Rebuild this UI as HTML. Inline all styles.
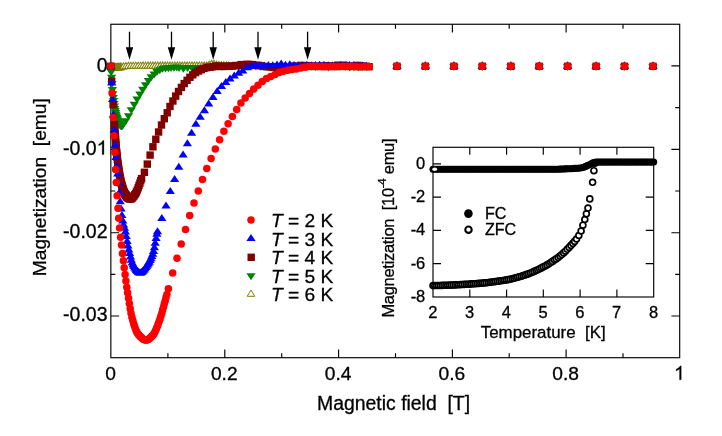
<!DOCTYPE html>
<html><head><meta charset="utf-8"><title>Magnetization</title>
<style>html,body{margin:0;padding:0;background:#fff}body{width:722px;height:436px;overflow:hidden;font-family:"Liberation Sans",sans-serif}</style></head>
<body>
<svg width="722" height="436" viewBox="0 0 722 436" style="display:block;will-change:transform;font-family:'Liberation Sans',sans-serif">
<rect width="722" height="436" fill="#fff"/>
<g stroke="#000" stroke-width="1.15" fill="none">
<rect x="110.85" y="24.25" width="568.85" height="333.45"/>
<path d="M167.9 24.25 v4.5 M167.9 357.7 v-4.5"/>
<path d="M224.8 24.25 v8.3 M224.8 357.7 v-8.3"/>
<path d="M281.7 24.25 v4.5 M281.7 357.7 v-4.5"/>
<path d="M338.6 24.25 v8.3 M338.6 357.7 v-8.3"/>
<path d="M395.5 24.25 v4.5 M395.5 357.7 v-4.5"/>
<path d="M452.4 24.25 v8.3 M452.4 357.7 v-8.3"/>
<path d="M509.2 24.25 v4.5 M509.2 357.7 v-4.5"/>
<path d="M566.1 24.25 v8.3 M566.1 357.7 v-8.3"/>
<path d="M623.0 24.25 v4.5 M623.0 357.7 v-4.5"/>
<path d="M110.85 65.9 h8.3 M679.7 65.9 h-8.3"/>
<path d="M110.85 107.6 h4.5 M679.7 107.6 h-4.5"/>
<path d="M110.85 149.3 h8.3 M679.7 149.3 h-8.3"/>
<path d="M110.85 191.0 h4.5 M679.7 191.0 h-4.5"/>
<path d="M110.85 232.7 h8.3 M679.7 232.7 h-8.3"/>
<path d="M110.85 274.3 h4.5 M679.7 274.3 h-4.5"/>
<path d="M110.85 316.0 h8.3 M679.7 316.0 h-8.3"/>
</g>
<g fill="#fff" stroke="#808000" stroke-width="1.05" stroke-linejoin="miter"><polygon points="107.0,68.4 114.6,68.4 110.8,62.2"/><polygon points="107.4,68.7 115.0,68.7 111.2,62.5"/><polygon points="107.8,68.9 115.4,68.9 111.6,62.7"/><polygon points="108.2,69.2 115.8,69.2 112.0,63.0"/><polygon points="108.6,69.4 116.2,69.4 112.4,63.2"/><polygon points="109.0,69.5 116.6,69.5 112.8,63.3"/><polygon points="109.4,69.6 117.0,69.6 113.2,63.4"/><polygon points="109.8,69.7 117.4,69.7 113.6,63.5"/><polygon points="110.2,69.7 117.8,69.7 114.0,63.5"/><polygon points="110.6,69.8 118.2,69.8 114.4,63.6"/><polygon points="111.0,69.8 118.6,69.8 114.8,63.6"/><polygon points="111.4,69.8 119.0,69.8 115.2,63.6"/><polygon points="111.8,69.9 119.4,69.9 115.6,63.7"/><polygon points="112.2,69.9 119.8,69.9 116.0,63.7"/><polygon points="112.6,69.9 120.2,69.9 116.4,63.7"/><polygon points="113.0,69.8 120.6,69.8 116.8,63.6"/><polygon points="113.4,69.8 121.0,69.8 117.2,63.6"/><polygon points="113.8,69.8 121.4,69.8 117.6,63.6"/><polygon points="114.2,69.8 121.8,69.8 118.0,63.6"/><polygon points="114.6,69.7 122.2,69.7 118.4,63.5"/><polygon points="115.0,69.7 122.6,69.7 118.8,63.5"/><polygon points="115.4,69.6 123.0,69.6 119.2,63.4"/><polygon points="115.8,69.6 123.4,69.6 119.6,63.4"/><polygon points="116.2,69.6 123.8,69.6 120.0,63.4"/><polygon points="116.6,69.5 124.2,69.5 120.4,63.3"/><polygon points="117.0,69.5 124.6,69.5 120.8,63.3"/><polygon points="117.3,69.4 124.9,69.4 121.1,63.2" stroke="none"/><path d="M124.89 69.44 L117.29 69.44 L121.09 63.24 L122.08 64.85" fill="none"/><polygon points="119.7,69.1 127.3,69.1 123.5,62.9" stroke="none"/><path d="M127.34 69.06 L119.74 69.06 L123.54 62.86 L124.52 64.48" fill="none"/><polygon points="122.2,68.8 129.8,68.8 126.0,62.6" stroke="none"/><path d="M129.78 68.75 L122.18 68.75 L125.98 62.55 L126.97 64.16" fill="none"/><polygon points="124.6,68.5 132.2,68.5 128.4,62.3" stroke="none"/><path d="M132.23 68.48 L124.63 68.48 L128.43 62.28 L129.42 63.89" fill="none"/><polygon points="127.1,68.4 134.7,68.4 130.9,62.2" stroke="none"/><path d="M134.67 68.37 L127.07 68.37 L130.87 62.17 L131.86 63.78" fill="none"/><polygon points="129.5,68.4 137.1,68.4 133.3,62.2" stroke="none"/><path d="M137.12 68.36 L129.52 68.36 L133.32 62.16 L134.31 63.77" fill="none"/><polygon points="132.0,68.3 139.6,68.3 135.8,62.1" stroke="none"/><path d="M139.57 68.35 L131.97 68.35 L135.77 62.15 L136.75 63.76" fill="none"/><polygon points="134.4,68.3 142.0,68.3 138.2,62.1" stroke="none"/><path d="M142.01 68.34 L134.41 68.34 L138.21 62.14 L139.20 63.76" fill="none"/><polygon points="136.9,68.3 144.5,68.3 140.7,62.1" stroke="none"/><path d="M144.46 68.34 L136.86 68.34 L140.66 62.14 L141.65 63.75" fill="none"/><polygon points="139.3,68.3 146.9,68.3 143.1,62.1" stroke="none"/><path d="M146.90 68.33 L139.30 68.33 L143.10 62.13 L144.09 63.75" fill="none"/><polygon points="141.7,68.3 149.3,68.3 145.5,62.1" stroke="none"/><path d="M149.35 68.33 L141.75 68.33 L145.55 62.13 L146.54 63.74" fill="none"/><polygon points="144.2,68.3 151.8,68.3 148.0,62.1" stroke="none"/><path d="M151.80 68.33 L144.20 68.33 L148.00 62.13 L148.98 63.74" fill="none"/><polygon points="146.6,68.3 154.2,68.3 150.4,62.1" stroke="none"/><path d="M154.24 68.32 L146.64 68.32 L150.44 62.12 L151.43 63.74" fill="none"/><polygon points="149.1,68.3 156.7,68.3 152.9,62.1" stroke="none"/><path d="M156.69 68.32 L149.09 68.32 L152.89 62.12 L153.88 63.73" fill="none"/><polygon points="151.5,68.3 159.1,68.3 155.3,62.1" stroke="none"/><path d="M159.13 68.32 L151.53 68.32 L155.33 62.12 L156.32 63.73" fill="none"/><polygon points="154.0,68.3 161.6,68.3 157.8,62.1" stroke="none"/><path d="M161.58 68.32 L153.98 68.32 L157.78 62.12 L158.77 63.73" fill="none"/><polygon points="156.4,68.3 164.0,68.3 160.2,62.1" stroke="none"/><path d="M164.03 68.32 L156.43 68.32 L160.23 62.12 L161.21 63.73" fill="none"/><polygon points="158.9,68.3 166.5,68.3 162.7,62.1" stroke="none"/><path d="M166.47 68.32 L158.87 68.32 L162.67 62.12 L163.66 63.73" fill="none"/><polygon points="161.3,68.3 168.9,68.3 165.1,62.1" stroke="none"/><path d="M168.92 68.32 L161.32 68.32 L165.12 62.12 L166.11 63.73" fill="none"/><polygon points="163.8,68.3 171.4,68.3 167.6,62.1" stroke="none"/><path d="M171.36 68.32 L163.76 68.32 L167.56 62.12 L168.55 63.73" fill="none"/><polygon points="166.2,68.3 173.8,68.3 170.0,62.1" stroke="none"/><path d="M173.81 68.32 L166.21 68.32 L170.01 62.12 L171.00 63.73" fill="none"/><polygon points="168.7,68.3 176.3,68.3 172.5,62.1" stroke="none"/><path d="M176.26 68.32 L168.66 68.32 L172.46 62.12 L173.44 63.73" fill="none"/><polygon points="171.1,68.3 178.7,68.3 174.9,62.1" stroke="none"/><path d="M178.70 68.32 L171.10 68.32 L174.90 62.12 L175.89 63.73" fill="none"/><polygon points="173.5,68.3 181.1,68.3 177.3,62.1" stroke="none"/><path d="M181.15 68.32 L173.55 68.32 L177.35 62.12 L178.34 63.73" fill="none"/><polygon points="176.0,68.3 183.6,68.3 179.8,62.1" stroke="none"/><path d="M183.59 68.31 L175.99 68.31 L179.79 62.11 L180.78 63.73" fill="none"/><polygon points="178.4,68.3 186.0,68.3 182.2,62.1" stroke="none"/><path d="M186.04 68.31 L178.44 68.31 L182.24 62.11 L183.23 63.72" fill="none"/><polygon points="180.9,68.3 188.5,68.3 184.7,62.1" stroke="none"/><path d="M188.49 68.31 L180.89 68.31 L184.69 62.11 L185.67 63.72" fill="none"/><polygon points="183.3,68.3 190.9,68.3 187.1,62.1" stroke="none"/><path d="M190.93 68.31 L183.33 68.31 L187.13 62.11 L188.12 63.72" fill="none"/><polygon points="185.8,68.3 193.4,68.3 189.6,62.1" stroke="none"/><path d="M193.38 68.30 L185.78 68.30 L189.58 62.10 L190.57 63.72" fill="none"/><polygon points="188.2,68.3 195.8,68.3 192.0,62.1" stroke="none"/><path d="M195.82 68.30 L188.22 68.30 L192.02 62.10 L193.01 63.71" fill="none"/><polygon points="190.7,68.3 198.3,68.3 194.5,62.1" stroke="none"/><path d="M198.27 68.30 L190.67 68.30 L194.47 62.10 L195.46 63.71" fill="none"/><polygon points="193.1,68.3 200.7,68.3 196.9,62.1" stroke="none"/><path d="M200.72 68.29 L193.12 68.29 L196.92 62.09 L197.91 63.70" fill="none"/><polygon points="195.6,68.3 203.2,68.3 199.4,62.1" stroke="none"/><path d="M203.16 68.28 L195.56 68.28 L199.36 62.08 L200.35 63.70" fill="none"/><polygon points="198.0,68.3 205.6,68.3 201.8,62.1" stroke="none"/><path d="M205.61 68.28 L198.01 68.28 L201.81 62.08 L202.80 63.69" fill="none"/><polygon points="200.5,68.3 208.1,68.3 204.3,62.1" stroke="none"/><path d="M208.06 68.27 L200.46 68.27 L204.26 62.07 L205.24 63.68" fill="none"/><polygon points="202.9,68.1 210.5,68.1 206.7,61.9" stroke="none"/><path d="M210.50 68.10 L202.90 68.10 L206.70 61.90 L207.69 63.51" fill="none"/><polygon points="205.3,67.5 212.9,67.5 209.1,61.3" stroke="none"/><path d="M212.95 67.50 L205.35 67.50 L209.15 61.30 L210.14 62.92" fill="none"/><polygon points="207.8,66.5 215.4,66.5 211.6,60.3" stroke="none"/><path d="M215.39 66.51 L207.79 66.51 L211.59 60.31 L212.58 61.93" fill="none"/><polygon points="210.2,66.4 217.8,66.4 214.0,60.2" stroke="none"/><path d="M217.84 66.41 L210.24 66.41 L214.04 60.21 L215.03 61.83" fill="none"/><polygon points="212.7,67.5 220.3,67.5 216.5,61.3" stroke="none"/><path d="M220.29 67.54 L212.69 67.54 L216.49 61.34 L217.47 62.96" fill="none"/><polygon points="215.1,67.8 222.7,67.8 218.9,61.6" stroke="none"/><path d="M222.73 67.80 L215.13 67.80 L218.93 61.60 L219.92 63.22" fill="none"/><polygon points="217.6,67.9 225.2,67.9 221.4,61.7" stroke="none"/><path d="M225.18 67.93 L217.58 67.93 L221.38 61.73 L222.37 63.34" fill="none"/><polygon points="220.0,68.0 227.6,68.0 223.8,61.8" stroke="none"/><path d="M227.62 68.02 L220.02 68.02 L223.82 61.82 L224.81 63.43" fill="none"/><polygon points="222.5,68.1 230.1,68.1 226.3,61.9" stroke="none"/><path d="M230.07 68.06 L222.47 68.06 L226.27 61.86 L227.26 63.47" fill="none"/><polygon points="224.9,68.1 232.5,68.1 228.7,61.9"/><polygon points="393.2,68.3 400.8,68.3 397.0,62.1"/><polygon points="421.6,68.3 429.2,68.3 425.4,62.1"/><polygon points="450.1,68.3 457.7,68.3 453.9,62.1"/><polygon points="478.5,68.3 486.1,68.3 482.3,62.1"/><polygon points="507.0,68.3 514.6,68.3 510.8,62.1"/><polygon points="535.4,68.4 543.0,68.4 539.2,62.2"/><polygon points="563.8,68.4 571.4,68.4 567.6,62.2"/><polygon points="592.3,68.4 599.9,68.4 596.1,62.2"/><polygon points="620.7,68.4 628.3,68.4 624.5,62.2"/><polygon points="649.2,68.4 656.8,68.4 653.0,62.2"/></g>
<polygon points="112.5,70.9 115.3,63.4 122.3,63.2 120.5,70.8" fill="#808000"/>
<g fill="#008000"><polygon points="106.2,64.0 115.4,64.0 110.8,71.0"/><polygon points="106.6,69.3 115.8,69.3 111.2,76.3"/><polygon points="107.0,74.8 116.2,74.8 111.6,81.8"/><polygon points="107.4,81.1 116.6,81.1 112.0,88.1"/><polygon points="107.8,87.0 117.0,87.0 112.4,94.0"/><polygon points="108.2,91.3 117.4,91.3 112.8,98.3"/><polygon points="108.6,94.9 117.8,94.9 113.2,101.9"/><polygon points="109.0,98.1 118.2,98.1 113.6,105.1"/><polygon points="109.4,100.9 118.6,100.9 114.0,107.9"/><polygon points="109.8,103.5 119.0,103.5 114.4,110.5"/><polygon points="110.2,105.9 119.4,105.9 114.8,112.9"/><polygon points="110.6,108.1 119.8,108.1 115.2,115.1"/><polygon points="111.0,110.0 120.2,110.0 115.6,117.0"/><polygon points="111.4,111.8 120.6,111.8 116.0,118.8"/><polygon points="111.8,113.4 121.0,113.4 116.4,120.4"/><polygon points="112.2,114.9 121.4,114.9 116.8,121.9"/><polygon points="112.6,116.3 121.8,116.3 117.2,123.3"/><polygon points="113.0,117.6 122.2,117.6 117.6,124.6"/><polygon points="113.4,118.6 122.6,118.6 118.0,125.6"/><polygon points="113.8,119.5 123.0,119.5 118.4,126.5"/><polygon points="114.2,120.2 123.4,120.2 118.8,127.2"/><polygon points="114.6,120.9 123.8,120.9 119.2,127.9"/><polygon points="115.0,121.5 124.2,121.5 119.6,128.5"/><polygon points="115.4,122.1 124.6,122.1 120.0,129.1"/><polygon points="115.8,122.6 125.0,122.6 120.4,129.6"/><polygon points="116.2,122.9 125.4,122.9 120.8,129.9"/><polygon points="116.6,123.1 125.8,123.1 121.2,130.1"/><polygon points="117.0,123.2 126.2,123.2 121.6,130.2"/><polygon points="117.4,123.0 126.6,123.0 122.0,130.0"/><polygon points="117.8,122.7 127.0,122.7 122.4,129.7"/><polygon points="118.2,122.3 127.4,122.3 122.8,129.3"/><polygon points="121.0,118.2 130.2,118.2 125.6,125.2"/><polygon points="123.9,113.2 133.1,113.2 128.5,120.2"/><polygon points="126.7,107.2 135.9,107.2 131.3,114.2"/><polygon points="129.6,101.7 138.8,101.7 134.2,108.7"/><polygon points="132.4,96.5 141.6,96.5 137.0,103.5"/><polygon points="135.3,91.4 144.5,91.4 139.9,98.4"/><polygon points="138.1,86.8 147.3,86.8 142.7,93.8"/><polygon points="140.9,82.3 150.1,82.3 145.5,89.3"/><polygon points="143.8,77.9 153.0,77.9 148.4,84.9"/><polygon points="146.6,74.3 155.8,74.3 151.2,81.3"/><polygon points="149.5,71.5 158.7,71.5 154.1,78.5"/><polygon points="152.3,69.1 161.5,69.1 156.9,76.1"/><polygon points="155.2,67.2 164.4,67.2 159.8,74.2"/><polygon points="158.0,65.8 167.2,65.8 162.6,72.8"/><polygon points="160.9,65.5 170.1,65.5 165.5,72.5"/><polygon points="163.7,65.2 172.9,65.2 168.3,72.2"/><polygon points="166.5,65.0 175.7,65.0 171.1,72.0"/><polygon points="169.4,64.8 178.6,64.8 174.0,71.8"/><polygon points="172.2,64.6 181.4,64.6 176.8,71.6"/><polygon points="174.5,64.9 183.7,64.9 179.1,71.9"/><polygon points="178.8,65.7 188.0,65.7 183.4,72.7"/><polygon points="183.0,65.1 192.2,65.1 187.6,72.1"/><polygon points="187.3,65.2 196.5,65.2 191.9,72.2"/><polygon points="191.6,64.9 200.8,64.9 196.2,71.9"/><polygon points="195.8,65.1 205.0,65.1 200.4,72.1"/><polygon points="200.1,65.1 209.3,65.1 204.7,72.1"/><polygon points="204.4,65.3 213.6,65.3 209.0,72.3"/><polygon points="208.6,63.9 217.8,63.9 213.2,70.9"/><polygon points="212.9,63.7 222.1,63.7 217.5,70.7"/><polygon points="217.2,63.4 226.4,63.4 221.8,70.4"/><polygon points="221.4,63.6 230.6,63.6 226.0,70.6"/><polygon points="225.7,63.4 234.9,63.4 230.3,70.4"/><polygon points="230.0,63.3 239.2,63.3 234.6,70.3"/><polygon points="234.2,63.7 243.4,63.7 238.8,70.7"/><polygon points="238.5,64.5 247.7,64.5 243.1,71.5"/><polygon points="242.8,63.2 252.0,63.2 247.4,70.2"/><polygon points="247.0,63.3 256.2,63.3 251.6,70.3"/><polygon points="251.3,63.6 260.5,63.6 255.9,70.6"/><polygon points="255.6,63.7 264.8,63.7 260.2,70.7"/><polygon points="259.8,63.6 269.0,63.6 264.4,70.6"/><polygon points="264.1,63.2 273.3,63.2 268.7,70.2"/><polygon points="268.4,63.0 277.6,63.0 273.0,70.0"/><polygon points="272.6,63.5 281.8,63.5 277.2,70.5"/><polygon points="276.9,64.1 286.1,64.1 281.5,71.1"/><polygon points="281.2,64.1 290.4,64.1 285.8,71.1"/><polygon points="285.4,63.7 294.6,63.7 290.0,70.7"/><polygon points="289.7,63.8 298.9,63.8 294.3,70.8"/><polygon points="294.0,63.8 303.2,63.8 298.6,70.8"/><polygon points="298.2,64.0 307.4,64.0 302.8,71.0"/><polygon points="302.5,64.1 311.7,64.1 307.1,71.1"/><polygon points="306.8,63.8 316.0,63.8 311.4,70.8"/><polygon points="311.0,63.9 320.2,63.9 315.6,70.9"/><polygon points="315.3,63.5 324.5,63.5 319.9,70.5"/><polygon points="319.6,63.9 328.8,63.9 324.2,70.9"/><polygon points="323.8,64.4 333.0,64.4 328.4,71.4"/><polygon points="328.1,63.8 337.3,63.8 332.7,70.8"/><polygon points="332.4,64.0 341.6,64.0 337.0,71.0"/><polygon points="336.6,63.6 345.8,63.6 341.2,70.6"/><polygon points="340.9,64.1 350.1,64.1 345.5,71.1"/><polygon points="345.2,64.4 354.4,64.4 349.8,71.4"/><polygon points="349.4,64.2 358.6,64.2 354.0,71.2"/><polygon points="353.7,64.6 362.9,64.6 358.3,71.6"/><polygon points="358.0,64.2 367.2,64.2 362.6,71.2"/><polygon points="362.2,63.9 371.4,63.9 366.8,70.9"/><polygon points="392.4,64.0 401.6,64.0 397.0,71.0"/><polygon points="420.8,64.0 430.0,64.0 425.4,71.0"/><polygon points="449.3,64.0 458.5,64.0 453.9,71.0"/><polygon points="477.7,64.0 486.9,64.0 482.3,71.0"/><polygon points="506.2,64.0 515.4,64.0 510.8,71.0"/><polygon points="534.6,64.0 543.8,64.0 539.2,71.0"/><polygon points="563.0,64.0 572.2,64.0 567.6,71.0"/><polygon points="591.5,64.0 600.7,64.0 596.1,71.0"/><polygon points="619.9,64.0 629.1,64.0 624.5,71.0"/><polygon points="648.4,64.0 657.6,64.0 653.0,71.0"/></g>
<g fill="#800000"><rect x="107.1" y="62.6" width="7.4" height="7.4"/><rect x="108.0" y="77.5" width="7.4" height="7.4"/><rect x="109.4" y="100.9" width="7.4" height="7.4"/><rect x="110.8" y="120.8" width="7.4" height="7.4"/><rect x="111.0" y="123.9" width="7.4" height="7.4"/><rect x="111.2" y="126.9" width="7.4" height="7.4"/><rect x="111.4" y="129.9" width="7.4" height="7.4"/><rect x="111.7" y="132.9" width="7.4" height="7.4"/><rect x="111.9" y="135.8" width="7.4" height="7.4"/><rect x="112.1" y="138.7" width="7.4" height="7.4"/><rect x="112.4" y="141.4" width="7.4" height="7.4"/><rect x="112.6" y="144.1" width="7.4" height="7.4"/><rect x="112.8" y="146.7" width="7.4" height="7.4"/><rect x="113.0" y="149.1" width="7.4" height="7.4"/><rect x="113.3" y="151.4" width="7.4" height="7.4"/><rect x="113.5" y="153.6" width="7.4" height="7.4"/><rect x="113.7" y="155.6" width="7.4" height="7.4"/><rect x="113.9" y="157.5" width="7.4" height="7.4"/><rect x="114.2" y="159.3" width="7.4" height="7.4"/><rect x="114.4" y="161.1" width="7.4" height="7.4"/><rect x="114.6" y="162.8" width="7.4" height="7.4"/><rect x="114.9" y="164.4" width="7.4" height="7.4"/><rect x="115.1" y="166.0" width="7.4" height="7.4"/><rect x="115.3" y="167.6" width="7.4" height="7.4"/><rect x="115.5" y="169.1" width="7.4" height="7.4"/><rect x="115.8" y="170.5" width="7.4" height="7.4"/><rect x="116.0" y="171.8" width="7.4" height="7.4"/><rect x="116.2" y="173.1" width="7.4" height="7.4"/><rect x="116.5" y="174.3" width="7.4" height="7.4"/><rect x="116.7" y="175.5" width="7.4" height="7.4"/><rect x="116.9" y="176.6" width="7.4" height="7.4"/><rect x="117.1" y="177.6" width="7.4" height="7.4"/><rect x="117.4" y="178.6" width="7.4" height="7.4"/><rect x="117.6" y="179.5" width="7.4" height="7.4"/><rect x="117.8" y="180.4" width="7.4" height="7.4"/><rect x="118.0" y="181.2" width="7.4" height="7.4"/><rect x="118.3" y="182.1" width="7.4" height="7.4"/><rect x="118.5" y="182.9" width="7.4" height="7.4"/><rect x="118.7" y="183.7" width="7.4" height="7.4"/><rect x="119.0" y="184.5" width="7.4" height="7.4"/><rect x="119.2" y="185.2" width="7.4" height="7.4"/><rect x="119.4" y="185.9" width="7.4" height="7.4"/><rect x="119.6" y="186.6" width="7.4" height="7.4"/><rect x="119.9" y="187.2" width="7.4" height="7.4"/><rect x="120.1" y="187.8" width="7.4" height="7.4"/><rect x="120.3" y="188.4" width="7.4" height="7.4"/><rect x="120.5" y="188.9" width="7.4" height="7.4"/><rect x="120.8" y="189.4" width="7.4" height="7.4"/><rect x="121.0" y="189.8" width="7.4" height="7.4"/><rect x="121.2" y="190.2" width="7.4" height="7.4"/><rect x="121.5" y="190.5" width="7.4" height="7.4"/><rect x="121.7" y="190.9" width="7.4" height="7.4"/><rect x="121.9" y="191.2" width="7.4" height="7.4"/><rect x="122.1" y="191.5" width="7.4" height="7.4"/><rect x="122.4" y="191.8" width="7.4" height="7.4"/><rect x="122.6" y="192.2" width="7.4" height="7.4"/><rect x="122.8" y="192.5" width="7.4" height="7.4"/><rect x="123.1" y="192.8" width="7.4" height="7.4"/><rect x="123.3" y="193.1" width="7.4" height="7.4"/><rect x="123.5" y="193.3" width="7.4" height="7.4"/><rect x="123.7" y="193.6" width="7.4" height="7.4"/><rect x="124.0" y="193.8" width="7.4" height="7.4"/><rect x="124.2" y="194.1" width="7.4" height="7.4"/><rect x="124.2" y="194.1" width="7.4" height="7.4"/><rect x="125.1" y="194.8" width="7.4" height="7.4"/><rect x="125.9" y="195.2" width="7.4" height="7.4"/><rect x="126.8" y="195.3" width="7.4" height="7.4"/><rect x="127.6" y="194.9" width="7.4" height="7.4"/><rect x="128.5" y="194.3" width="7.4" height="7.4"/><rect x="129.3" y="193.3" width="7.4" height="7.4"/><rect x="130.2" y="192.3" width="7.4" height="7.4"/><rect x="131.0" y="191.1" width="7.4" height="7.4"/><rect x="131.9" y="189.9" width="7.4" height="7.4"/><rect x="132.7" y="188.3" width="7.4" height="7.4"/><rect x="133.6" y="186.3" width="7.4" height="7.4"/><rect x="134.5" y="184.1" width="7.4" height="7.4"/><rect x="135.3" y="181.7" width="7.4" height="7.4"/><rect x="136.2" y="179.4" width="7.4" height="7.4"/><rect x="137.0" y="177.0" width="7.4" height="7.4"/><rect x="137.9" y="174.9" width="7.4" height="7.4"/><rect x="140.7" y="168.6" width="7.4" height="7.4"/><rect x="143.6" y="160.4" width="7.4" height="7.4"/><rect x="146.4" y="151.4" width="7.4" height="7.4"/><rect x="149.2" y="143.1" width="7.4" height="7.4"/><rect x="152.1" y="135.6" width="7.4" height="7.4"/><rect x="154.9" y="128.3" width="7.4" height="7.4"/><rect x="157.8" y="121.3" width="7.4" height="7.4"/><rect x="160.6" y="115.0" width="7.4" height="7.4"/><rect x="163.5" y="109.1" width="7.4" height="7.4"/><rect x="166.3" y="102.8" width="7.4" height="7.4"/><rect x="169.2" y="97.3" width="7.4" height="7.4"/><rect x="172.0" y="92.4" width="7.4" height="7.4"/><rect x="174.8" y="87.8" width="7.4" height="7.4"/><rect x="177.7" y="83.7" width="7.4" height="7.4"/><rect x="180.5" y="79.9" width="7.4" height="7.4"/><rect x="183.4" y="76.6" width="7.4" height="7.4"/><rect x="186.2" y="73.6" width="7.4" height="7.4"/><rect x="189.1" y="71.1" width="7.4" height="7.4"/><rect x="191.9" y="68.9" width="7.4" height="7.4"/><rect x="194.8" y="67.3" width="7.4" height="7.4"/><rect x="197.6" y="66.0" width="7.4" height="7.4"/><rect x="200.4" y="64.7" width="7.4" height="7.4"/><rect x="203.3" y="63.6" width="7.4" height="7.4"/><rect x="206.1" y="63.5" width="7.4" height="7.4"/><rect x="209.0" y="63.1" width="7.4" height="7.4"/><rect x="211.8" y="62.2" width="7.4" height="7.4"/><rect x="214.7" y="62.5" width="7.4" height="7.4"/><rect x="217.5" y="62.8" width="7.4" height="7.4"/><rect x="220.4" y="62.7" width="7.4" height="7.4"/><rect x="223.2" y="62.6" width="7.4" height="7.4"/><rect x="226.0" y="62.6" width="7.4" height="7.4"/><rect x="228.9" y="62.3" width="7.4" height="7.4"/><rect x="231.7" y="61.8" width="7.4" height="7.4"/><rect x="234.6" y="61.9" width="7.4" height="7.4"/><rect x="237.4" y="60.9" width="7.4" height="7.4"/><rect x="240.3" y="61.0" width="7.4" height="7.4"/><rect x="243.1" y="60.6" width="7.4" height="7.4"/><rect x="245.9" y="60.8" width="7.4" height="7.4"/><rect x="248.8" y="60.9" width="7.4" height="7.4"/><rect x="251.6" y="61.7" width="7.4" height="7.4"/><rect x="254.5" y="61.6" width="7.4" height="7.4"/><rect x="257.3" y="62.1" width="7.4" height="7.4"/><rect x="260.2" y="62.7" width="7.4" height="7.4"/><rect x="263.0" y="63.0" width="7.4" height="7.4"/><rect x="265.9" y="63.1" width="7.4" height="7.4"/><rect x="268.7" y="63.5" width="7.4" height="7.4"/><rect x="271.5" y="63.8" width="7.4" height="7.4"/><rect x="274.4" y="63.6" width="7.4" height="7.4"/><rect x="277.2" y="62.9" width="7.4" height="7.4"/><rect x="280.1" y="63.8" width="7.4" height="7.4"/><rect x="282.9" y="64.2" width="7.4" height="7.4"/><rect x="285.8" y="63.7" width="7.4" height="7.4"/><rect x="288.6" y="62.6" width="7.4" height="7.4"/><rect x="291.5" y="62.5" width="7.4" height="7.4"/><rect x="294.3" y="62.6" width="7.4" height="7.4"/><rect x="297.1" y="61.7" width="7.4" height="7.4"/><rect x="300.0" y="61.9" width="7.4" height="7.4"/><rect x="302.8" y="62.0" width="7.4" height="7.4"/><rect x="305.7" y="61.9" width="7.4" height="7.4"/><rect x="308.5" y="62.3" width="7.4" height="7.4"/><rect x="311.4" y="62.8" width="7.4" height="7.4"/><rect x="314.2" y="62.5" width="7.4" height="7.4"/><rect x="317.1" y="62.6" width="7.4" height="7.4"/><rect x="319.9" y="62.4" width="7.4" height="7.4"/><rect x="322.7" y="62.1" width="7.4" height="7.4"/><rect x="325.6" y="62.3" width="7.4" height="7.4"/><rect x="328.4" y="62.6" width="7.4" height="7.4"/><rect x="331.3" y="62.3" width="7.4" height="7.4"/><rect x="334.1" y="61.5" width="7.4" height="7.4"/><rect x="337.0" y="62.0" width="7.4" height="7.4"/><rect x="339.8" y="61.5" width="7.4" height="7.4"/><rect x="342.7" y="61.9" width="7.4" height="7.4"/><rect x="345.5" y="62.7" width="7.4" height="7.4"/><rect x="348.3" y="62.7" width="7.4" height="7.4"/><rect x="351.2" y="62.2" width="7.4" height="7.4"/><rect x="354.0" y="61.7" width="7.4" height="7.4"/><rect x="356.9" y="62.4" width="7.4" height="7.4"/><rect x="359.7" y="62.4" width="7.4" height="7.4"/><rect x="362.6" y="62.7" width="7.4" height="7.4"/><rect x="365.4" y="63.0" width="7.4" height="7.4"/><rect x="393.3" y="62.6" width="7.4" height="7.4"/><rect x="421.7" y="62.6" width="7.4" height="7.4"/><rect x="450.2" y="62.6" width="7.4" height="7.4"/><rect x="478.6" y="62.6" width="7.4" height="7.4"/><rect x="507.1" y="62.6" width="7.4" height="7.4"/><rect x="535.5" y="62.6" width="7.4" height="7.4"/><rect x="563.9" y="62.6" width="7.4" height="7.4"/><rect x="592.4" y="62.6" width="7.4" height="7.4"/><rect x="620.8" y="62.6" width="7.4" height="7.4"/><rect x="649.3" y="62.6" width="7.4" height="7.4"/></g>
<g fill="#0000ff"><polygon points="106.2,68.6 115.4,68.6 110.8,61.6"/><polygon points="107.1,85.6 116.3,85.6 111.7,78.6"/><polygon points="108.0,101.9 117.2,101.9 112.6,94.9"/><polygon points="108.8,117.6 118.0,117.6 113.4,110.6"/><polygon points="109.7,132.7 118.9,132.7 114.3,125.7"/><polygon points="110.5,147.9 119.7,147.9 115.1,140.9"/><polygon points="111.4,160.1 120.6,160.1 116.0,153.1"/><polygon points="112.2,168.7 121.4,168.7 116.8,161.7"/><polygon points="113.1,176.4 122.3,176.4 117.7,169.4"/><polygon points="113.9,185.4 123.1,185.4 118.5,178.4"/><polygon points="114.8,195.2 124.0,195.2 119.4,188.2"/><polygon points="115.6,204.2 124.8,204.2 120.2,197.2"/><polygon points="116.5,211.6 125.7,211.6 121.1,204.6"/><polygon points="117.3,218.1 126.5,218.1 121.9,211.1"/><polygon points="118.2,223.4 127.4,223.4 122.8,216.4"/><polygon points="119.0,227.4 128.2,227.4 123.6,220.4"/><polygon points="119.9,230.8 129.1,230.8 124.5,223.8"/><polygon points="120.8,234.6 130.0,234.6 125.4,227.6"/><polygon points="121.6,239.1 130.8,239.1 126.2,232.1"/><polygon points="122.5,244.0 131.7,244.0 127.1,237.0"/><polygon points="123.3,248.5 132.5,248.5 127.9,241.5"/><polygon points="124.2,252.4 133.4,252.4 128.8,245.4"/><polygon points="125.0,256.1 134.2,256.1 129.6,249.1"/><polygon points="125.9,259.6 135.1,259.6 130.5,252.6"/><polygon points="126.7,262.8 135.9,262.8 131.3,255.8"/><polygon points="127.6,265.5 136.8,265.5 132.2,258.5"/><polygon points="128.4,267.4 137.6,267.4 133.0,260.4"/><polygon points="129.3,268.9 138.5,268.9 133.9,261.9"/><polygon points="130.1,270.4 139.3,270.4 134.7,263.4"/><polygon points="131.0,271.8 140.2,271.8 135.6,264.8"/><polygon points="131.8,273.0 141.0,273.0 136.4,266.0"/><polygon points="132.7,274.0 141.9,274.0 137.3,267.0"/><polygon points="133.6,274.8 142.8,274.8 138.2,267.8"/><polygon points="134.4,275.3 143.6,275.3 139.0,268.3"/><polygon points="135.3,275.5 144.5,275.5 139.9,268.5"/><polygon points="136.1,275.4 145.3,275.4 140.7,268.4"/><polygon points="137.0,275.0 146.2,275.0 141.6,268.0"/><polygon points="137.8,274.3 147.0,274.3 142.4,267.3"/><polygon points="138.7,273.4 147.9,273.4 143.3,266.4"/><polygon points="139.5,272.4 148.7,272.4 144.1,265.4"/><polygon points="140.4,271.2 149.6,271.2 145.0,264.2"/><polygon points="141.2,270.0 150.4,270.0 145.8,263.0"/><polygon points="142.1,268.8 151.3,268.8 146.7,261.8"/><polygon points="142.9,267.6 152.1,267.6 147.5,260.6"/><polygon points="143.8,266.2 153.0,266.2 148.4,259.2"/><polygon points="144.6,264.7 153.8,264.7 149.2,257.7"/><polygon points="145.5,263.1 154.7,263.1 150.1,256.1"/><polygon points="146.4,261.2 155.6,261.2 151.0,254.2"/><polygon points="147.2,259.1 156.4,259.1 151.8,252.1"/><polygon points="148.1,256.8 157.3,256.8 152.7,249.8"/><polygon points="148.9,254.1 158.1,254.1 153.5,247.1"/><polygon points="149.8,250.2 159.0,250.2 154.4,243.2"/><polygon points="150.6,245.7 159.8,245.7 155.2,238.7"/><polygon points="151.5,241.0 160.7,241.0 156.1,234.0"/><polygon points="152.3,236.7 161.5,236.7 156.9,229.7"/><polygon points="152.9,234.3 162.1,234.3 157.5,227.3"/><polygon points="157.2,221.1 166.4,221.1 161.8,214.1"/><polygon points="161.4,208.4 170.6,208.4 166.0,201.4"/><polygon points="165.7,194.0 174.9,194.0 170.3,187.0"/><polygon points="170.0,182.1 179.2,182.1 174.6,175.1"/><polygon points="174.2,169.7 183.4,169.7 178.8,162.7"/><polygon points="178.5,157.4 187.7,157.4 183.1,150.4"/><polygon points="182.8,146.3 192.0,146.3 187.4,139.3"/><polygon points="187.0,135.8 196.2,135.8 191.6,128.8"/><polygon points="191.3,126.8 200.5,126.8 195.9,119.8"/><polygon points="195.6,119.7 204.8,119.7 200.2,112.7"/><polygon points="199.8,113.2 209.0,113.2 204.4,106.2"/><polygon points="204.1,106.5 213.3,106.5 208.7,99.5"/><polygon points="208.4,100.1 217.6,100.1 213.0,93.1"/><polygon points="212.6,94.1 221.8,94.1 217.2,87.1"/><polygon points="216.9,88.9 226.1,88.9 221.5,81.9"/><polygon points="221.2,84.9 230.4,84.9 225.8,77.9"/><polygon points="225.4,81.4 234.6,81.4 230.0,74.4"/><polygon points="229.7,78.4 238.9,78.4 234.3,71.4"/><polygon points="234.0,75.7 243.2,75.7 238.6,68.7"/><polygon points="238.2,73.4 247.4,73.4 242.8,66.4"/><polygon points="242.5,70.2 251.7,70.2 247.1,63.2"/><polygon points="246.8,68.9 256.0,68.9 251.4,61.9"/><polygon points="251.0,68.1 260.2,68.1 255.6,61.1"/><polygon points="255.3,68.6 264.5,68.6 259.9,61.6"/><polygon points="259.6,68.5 268.8,68.5 264.2,61.5"/><polygon points="263.8,68.1 273.0,68.1 268.4,61.1"/><polygon points="268.1,68.3 277.3,68.3 272.7,61.3"/><polygon points="272.4,67.5 281.6,67.5 277.0,60.5"/><polygon points="276.6,66.6 285.8,66.6 281.2,59.6"/><polygon points="280.9,67.7 290.1,67.7 285.5,60.7"/><polygon points="285.2,67.2 294.4,67.2 289.8,60.2"/><polygon points="289.4,68.1 298.6,68.1 294.0,61.1"/><polygon points="293.7,68.5 302.9,68.5 298.3,61.5"/><polygon points="298.0,68.5 307.2,68.5 302.6,61.5"/><polygon points="302.2,67.7 311.4,67.7 306.8,60.7"/><polygon points="306.5,68.4 315.7,68.4 311.1,61.4"/><polygon points="310.8,68.0 320.0,68.0 315.4,61.0"/><polygon points="315.0,67.7 324.2,67.7 319.6,60.7"/><polygon points="319.3,67.8 328.5,67.8 323.9,60.8"/><polygon points="323.6,68.3 332.8,68.3 328.2,61.3"/><polygon points="327.8,68.5 337.0,68.5 332.4,61.5"/><polygon points="332.1,68.9 341.3,68.9 336.7,61.9"/><polygon points="336.3,68.6 345.5,68.6 340.9,61.6"/><polygon points="340.6,68.6 349.8,68.6 345.2,61.6"/><polygon points="344.9,68.1 354.1,68.1 349.5,61.1"/><polygon points="349.1,68.1 358.3,68.1 353.7,61.1"/><polygon points="353.4,68.5 362.6,68.5 358.0,61.5"/><polygon points="357.7,68.4 366.9,68.4 362.3,61.4"/><polygon points="361.9,68.7 371.1,68.7 366.5,61.7"/><polygon points="392.4,68.6 401.6,68.6 397.0,61.6"/><polygon points="420.8,68.6 430.0,68.6 425.4,61.6"/><polygon points="449.3,68.6 458.5,68.6 453.9,61.6"/><polygon points="477.7,68.6 486.9,68.6 482.3,61.6"/><polygon points="506.2,68.6 515.4,68.6 510.8,61.6"/><polygon points="534.6,68.6 543.8,68.6 539.2,61.6"/><polygon points="563.0,68.6 572.2,68.6 567.6,61.6"/><polygon points="591.5,68.6 600.7,68.6 596.1,61.6"/><polygon points="619.9,68.6 629.1,68.6 624.5,61.6"/><polygon points="648.4,68.6 657.6,68.6 653.0,61.6"/></g>
<g fill="#ff0000"><circle cx="110.8" cy="66.3" r="3.75"/><circle cx="112.1" cy="93.0" r="3.75"/><circle cx="113.3" cy="117.5" r="3.75"/><circle cx="114.1" cy="135.8" r="3.75"/><circle cx="114.8" cy="152.5" r="3.75"/><circle cx="115.6" cy="169.5" r="3.75"/><circle cx="116.3" cy="182.5" r="3.75"/><circle cx="117.1" cy="195.8" r="3.75"/><circle cx="118.0" cy="208.3" r="3.75"/><circle cx="118.7" cy="218.2" r="3.75"/><circle cx="119.6" cy="227.9" r="3.75"/><circle cx="120.6" cy="237.3" r="3.75"/><circle cx="121.5" cy="245.1" r="3.75"/><circle cx="122.5" cy="253.5" r="3.75"/><circle cx="123.4" cy="260.7" r="3.75"/><circle cx="124.2" cy="267.7" r="3.75"/><circle cx="125.1" cy="274.5" r="3.75"/><circle cx="125.9" cy="281.1" r="3.75"/><circle cx="126.8" cy="287.2" r="3.75"/><circle cx="127.6" cy="292.8" r="3.75"/><circle cx="128.5" cy="298.3" r="3.75"/><circle cx="129.3" cy="303.6" r="3.75"/><circle cx="130.2" cy="308.7" r="3.75"/><circle cx="131.0" cy="313.3" r="3.75"/><circle cx="131.9" cy="317.2" r="3.75"/><circle cx="132.8" cy="320.5" r="3.75"/><circle cx="133.6" cy="323.4" r="3.75"/><circle cx="134.5" cy="326.1" r="3.75"/><circle cx="135.3" cy="328.6" r="3.75"/><circle cx="136.2" cy="330.7" r="3.75"/><circle cx="137.0" cy="332.5" r="3.75"/><circle cx="137.9" cy="333.8" r="3.75"/><circle cx="138.7" cy="334.9" r="3.75"/><circle cx="139.6" cy="335.8" r="3.75"/><circle cx="140.4" cy="336.7" r="3.75"/><circle cx="141.3" cy="337.6" r="3.75"/><circle cx="142.1" cy="338.3" r="3.75"/><circle cx="143.0" cy="338.9" r="3.75"/><circle cx="143.8" cy="339.4" r="3.75"/><circle cx="144.7" cy="339.8" r="3.75"/><circle cx="145.5" cy="340.0" r="3.75"/><circle cx="146.4" cy="340.0" r="3.75"/><circle cx="147.3" cy="339.8" r="3.75"/><circle cx="148.1" cy="339.4" r="3.75"/><circle cx="149.0" cy="338.9" r="3.75"/><circle cx="149.8" cy="338.2" r="3.75"/><circle cx="150.7" cy="337.4" r="3.75"/><circle cx="151.5" cy="336.6" r="3.75"/><circle cx="152.4" cy="335.7" r="3.75"/><circle cx="153.2" cy="334.7" r="3.75"/><circle cx="154.1" cy="333.5" r="3.75"/><circle cx="154.9" cy="332.0" r="3.75"/><circle cx="155.8" cy="330.1" r="3.75"/><circle cx="156.6" cy="328.1" r="3.75"/><circle cx="157.5" cy="325.9" r="3.75"/><circle cx="158.3" cy="323.6" r="3.75"/><circle cx="159.2" cy="321.3" r="3.75"/><circle cx="160.1" cy="318.8" r="3.75"/><circle cx="160.9" cy="316.1" r="3.75"/><circle cx="161.8" cy="313.2" r="3.75"/><circle cx="162.6" cy="310.1" r="3.75"/><circle cx="163.5" cy="307.0" r="3.75"/><circle cx="164.3" cy="303.8" r="3.75"/><circle cx="165.2" cy="300.7" r="3.75"/><circle cx="166.0" cy="297.6" r="3.75"/><circle cx="166.9" cy="294.5" r="3.75"/><circle cx="168.4" cy="288.7" r="3.75"/><circle cx="172.7" cy="273.0" r="3.75"/><circle cx="177.0" cy="258.3" r="3.75"/><circle cx="181.2" cy="244.0" r="3.75"/><circle cx="185.5" cy="229.4" r="3.75"/><circle cx="189.7" cy="215.5" r="3.75"/><circle cx="194.0" cy="202.9" r="3.75"/><circle cx="198.3" cy="191.1" r="3.75"/><circle cx="202.5" cy="179.5" r="3.75"/><circle cx="206.8" cy="168.5" r="3.75"/><circle cx="211.1" cy="158.4" r="3.75"/><circle cx="215.3" cy="148.9" r="3.75"/><circle cx="219.6" cy="139.7" r="3.75"/><circle cx="223.9" cy="131.2" r="3.75"/><circle cx="228.1" cy="123.7" r="3.75"/><circle cx="232.4" cy="116.6" r="3.75"/><circle cx="236.7" cy="109.5" r="3.75"/><circle cx="240.9" cy="103.0" r="3.75"/><circle cx="245.2" cy="98.0" r="3.75"/><circle cx="249.5" cy="93.5" r="3.75"/><circle cx="253.7" cy="89.1" r="3.75"/><circle cx="258.0" cy="85.2" r="3.75"/><circle cx="262.3" cy="81.5" r="3.75"/><circle cx="266.5" cy="78.6" r="3.75"/><circle cx="270.8" cy="76.4" r="3.75"/><circle cx="275.1" cy="74.5" r="3.75"/><circle cx="279.3" cy="72.6" r="3.75"/><circle cx="283.6" cy="71.2" r="3.75"/><circle cx="287.9" cy="70.2" r="3.75"/><circle cx="292.1" cy="69.4" r="3.75"/><circle cx="296.4" cy="68.9" r="3.75"/><circle cx="300.7" cy="68.0" r="3.75"/><circle cx="304.9" cy="67.2" r="3.75"/><circle cx="309.2" cy="66.6" r="3.75"/><circle cx="313.5" cy="66.3" r="3.75"/><circle cx="317.7" cy="66.5" r="3.75"/><circle cx="322.0" cy="66.8" r="3.75"/><circle cx="326.3" cy="66.8" r="3.75"/><circle cx="330.5" cy="66.8" r="3.75"/><circle cx="334.8" cy="66.8" r="3.75"/><circle cx="339.1" cy="66.7" r="3.75"/><circle cx="343.3" cy="66.6" r="3.75"/><circle cx="347.6" cy="66.4" r="3.75"/><circle cx="351.9" cy="66.3" r="3.75"/><circle cx="356.1" cy="66.8" r="3.75"/><circle cx="360.4" cy="66.9" r="3.75"/><circle cx="364.7" cy="66.7" r="3.75"/><circle cx="368.9" cy="66.5" r="3.75"/><circle cx="397.0" cy="66.3" r="3.75"/><circle cx="425.4" cy="66.3" r="3.75"/><circle cx="453.9" cy="66.3" r="3.75"/><circle cx="482.3" cy="66.3" r="3.75"/><circle cx="510.8" cy="66.3" r="3.75"/><circle cx="539.2" cy="66.3" r="3.75"/><circle cx="567.6" cy="66.3" r="3.75"/><circle cx="596.1" cy="66.3" r="3.75"/><circle cx="624.5" cy="66.3" r="3.75"/><circle cx="653.0" cy="66.3" r="3.75"/></g>
<path d="M129.5 31.7 V52" stroke="#000" stroke-width="1.3" fill="none"/>
<polygon points="129.5,59.8 125.8,47.2 133.2,47.2" fill="#000"/>
<path d="M171.5 31.7 V52" stroke="#000" stroke-width="1.3" fill="none"/>
<polygon points="171.5,59.8 167.8,47.2 175.2,47.2" fill="#000"/>
<path d="M213.2 31.7 V52" stroke="#000" stroke-width="1.3" fill="none"/>
<polygon points="213.2,59.8 209.5,47.2 216.89999999999998,47.2" fill="#000"/>
<path d="M258.0 31.7 V52" stroke="#000" stroke-width="1.3" fill="none"/>
<polygon points="258.0,59.8 254.3,47.2 261.7,47.2" fill="#000"/>
<path d="M307.6 31.7 V52" stroke="#000" stroke-width="1.3" fill="none"/>
<polygon points="307.6,59.8 303.90000000000003,47.2 311.3,47.2" fill="#000"/>
<g font-size="19.2" fill="#000" stroke="#000" stroke-width="0.3">
<text x="110.5" y="379.7" text-anchor="middle">0</text>
<text x="224.3" y="379.7" text-anchor="middle">0.2</text>
<text x="338.1" y="379.7" text-anchor="middle">0.4</text>
<text x="451.9" y="379.7" text-anchor="middle">0.6</text>
<text x="565.6" y="379.7" text-anchor="middle">0.8</text>
<path d="M681.22 379.70L679.53 379.70L679.53 368.95Q678.92 369.53 677.93 370.11T676.15 370.98L676.15 369.35Q677.56 368.68 678.61 367.75T680.11 365.90L681.22 365.90Z" stroke-width="0.3" stroke="#000" fill="#000"/>
<text x="107.5" y="72.1" text-anchor="end" font-size="19.5">0</text>
<text x="96.7" y="154.6" text-anchor="end" font-size="19.5">-0.0</text>
<path d="M103.92 154.59L102.21 154.59L102.21 143.67Q101.59 144.26 100.59 144.85T98.78 145.74L98.78 144.08Q100.21 143.41 101.28 142.45T102.80 140.58L103.92 140.58Z" stroke-width="0.3" stroke="#000" fill="#000"/>
<text x="107.5" y="238.0" text-anchor="end" font-size="19.5">-0.02</text>
<text x="107.5" y="321.3" text-anchor="end" font-size="19.5">-0.03</text>
<text x="393.6" y="410.2" text-anchor="middle" xml:space="preserve" font-size="19.4">Magnetic field  [T]</text>
<text transform="translate(46.4,187.2) rotate(-90)" text-anchor="middle" xml:space="preserve">Magnetization  [emu]</text>
<text x="270.9" y="227.2" xml:space="preserve"><tspan font-style="italic">T</tspan> = 2 K</text>
<text x="270.9" y="245.8" xml:space="preserve"><tspan font-style="italic">T</tspan> = 3 K</text>
<text x="270.9" y="264.4" xml:space="preserve"><tspan font-style="italic">T</tspan> = 4 K</text>
<text x="270.9" y="282.9" xml:space="preserve"><tspan font-style="italic">T</tspan> = 5 K</text>
<text x="270.9" y="301.4" xml:space="preserve"><tspan font-style="italic">T</tspan> = 6 K</text>
</g>
<g fill="#ff0000"><circle cx="251.0" cy="220.0" r="3.75"/></g>
<g fill="#0000ff"><polygon points="246.4,240.9 255.6,240.9 251.0,233.9"/></g>
<g fill="#800000"><rect x="247.5" y="253.6" width="7.4" height="7.4"/></g>
<g fill="#008000"><polygon points="246.4,273.3 255.6,273.3 251.0,280.3"/></g>
<g fill="#fff" stroke="#808000" stroke-width="1"><polygon points="247.2,296.3 254.8,296.3 251.0,290.1"/></g>
<rect x="433.0" y="147.3" width="220.70000000000005" height="149.7" fill="#fff"/>
<g stroke="#000" stroke-width="1.15" fill="none">
<rect x="433.0" y="147.3" width="220.70000000000005" height="149.7"/>
<path d="M469.8 147.3 v7.5 M469.8 297.0 v-7.5"/>
<path d="M506.6 147.3 v7.5 M506.6 297.0 v-7.5"/>
<path d="M543.3 147.3 v7.5 M543.3 297.0 v-7.5"/>
<path d="M580.1 147.3 v7.5 M580.1 297.0 v-7.5"/>
<path d="M616.9 147.3 v7.5 M616.9 297.0 v-7.5"/>
<path d="M433.0 163.9 h8 M653.7 163.9 h-8"/>
<path d="M433.0 197.1 h8 M653.7 197.1 h-8"/>
<path d="M433.0 230.4 h8 M653.7 230.4 h-8"/>
<path d="M433.0 263.6 h8 M653.7 263.6 h-8"/>
</g>
<g fill="#fff" stroke="#000" stroke-width="1.7"><circle cx="433.0" cy="285.6" r="2.95"/><circle cx="434.8" cy="285.5" r="2.95"/><circle cx="436.7" cy="285.5" r="2.95"/><circle cx="438.5" cy="285.5" r="2.95"/><circle cx="440.4" cy="285.5" r="2.95"/><circle cx="442.2" cy="285.4" r="2.95"/><circle cx="444.0" cy="285.3" r="2.95"/><circle cx="445.9" cy="285.3" r="2.95"/><circle cx="447.7" cy="285.2" r="2.95"/><circle cx="449.6" cy="285.1" r="2.95"/><circle cx="451.4" cy="285.1" r="2.95"/><circle cx="453.2" cy="285.0" r="2.95"/><circle cx="455.1" cy="284.9" r="2.95"/><circle cx="456.9" cy="284.8" r="2.95"/><circle cx="458.7" cy="284.7" r="2.95"/><circle cx="460.6" cy="284.6" r="2.95"/><circle cx="462.4" cy="284.5" r="2.95"/><circle cx="464.3" cy="284.4" r="2.95"/><circle cx="466.1" cy="284.3" r="2.95"/><circle cx="467.9" cy="284.2" r="2.95"/><circle cx="469.8" cy="284.1" r="2.95"/><circle cx="471.6" cy="283.9" r="2.95"/><circle cx="473.5" cy="283.8" r="2.95"/><circle cx="475.3" cy="283.7" r="2.95"/><circle cx="477.1" cy="283.5" r="2.95"/><circle cx="479.0" cy="283.4" r="2.95"/><circle cx="480.8" cy="283.2" r="2.95"/><circle cx="482.7" cy="283.1" r="2.95"/><circle cx="484.5" cy="282.9" r="2.95"/><circle cx="486.3" cy="282.7" r="2.95"/><circle cx="488.2" cy="282.5" r="2.95"/><circle cx="490.0" cy="282.3" r="2.95"/><circle cx="491.8" cy="282.0" r="2.95"/><circle cx="493.7" cy="281.8" r="2.95"/><circle cx="495.5" cy="281.6" r="2.95"/><circle cx="497.4" cy="281.3" r="2.95"/><circle cx="499.2" cy="281.1" r="2.95"/><circle cx="501.0" cy="280.8" r="2.95"/><circle cx="502.9" cy="280.5" r="2.95"/><circle cx="504.7" cy="280.2" r="2.95"/><circle cx="506.6" cy="279.9" r="2.95"/><circle cx="508.4" cy="279.6" r="2.95"/><circle cx="510.2" cy="279.2" r="2.95"/><circle cx="512.1" cy="278.8" r="2.95"/><circle cx="513.9" cy="278.3" r="2.95"/><circle cx="515.8" cy="277.8" r="2.95"/><circle cx="517.6" cy="277.3" r="2.95"/><circle cx="519.4" cy="276.8" r="2.95"/><circle cx="521.3" cy="276.2" r="2.95"/><circle cx="523.1" cy="275.6" r="2.95"/><circle cx="524.9" cy="275.0" r="2.95"/><circle cx="526.8" cy="274.4" r="2.95"/><circle cx="528.6" cy="273.7" r="2.95"/><circle cx="530.5" cy="273.0" r="2.95"/><circle cx="532.3" cy="272.2" r="2.95"/><circle cx="534.1" cy="271.4" r="2.95"/><circle cx="536.0" cy="270.6" r="2.95"/><circle cx="537.8" cy="269.7" r="2.95"/><circle cx="539.7" cy="268.8" r="2.95"/><circle cx="541.5" cy="267.9" r="2.95"/><circle cx="543.3" cy="266.9" r="2.95"/><circle cx="545.2" cy="266.0" r="2.95"/><circle cx="547.0" cy="264.9" r="2.95"/><circle cx="548.9" cy="263.8" r="2.95"/><circle cx="550.7" cy="262.6" r="2.95"/><circle cx="552.5" cy="261.4" r="2.95"/><circle cx="554.4" cy="260.1" r="2.95"/><circle cx="556.2" cy="258.9" r="2.95"/><circle cx="558.1" cy="257.5" r="2.95"/><circle cx="559.9" cy="256.1" r="2.95"/><circle cx="561.7" cy="254.6" r="2.95"/><circle cx="563.6" cy="252.9" r="2.95"/><circle cx="565.4" cy="251.2" r="2.95"/><circle cx="567.2" cy="249.3" r="2.95"/><circle cx="569.1" cy="247.4" r="2.95"/><circle cx="570.9" cy="245.4" r="2.95"/><circle cx="572.8" cy="243.4" r="2.95"/><circle cx="574.6" cy="241.4" r="2.95"/><circle cx="576.5" cy="239.0" r="2.95"/><circle cx="578.8" cy="235.5" r="2.95"/><circle cx="581.1" cy="231.0" r="2.95"/><circle cx="582.9" cy="225.2" r="2.95"/><circle cx="584.8" cy="219.5" r="2.95"/><circle cx="586.4" cy="213.8" r="2.95"/><circle cx="588.0" cy="208.1" r="2.95"/><circle cx="589.8" cy="198.9" r="2.95"/><circle cx="592.6" cy="182.3" r="2.95"/><circle cx="593.9" cy="170.7" r="2.95"/><circle cx="594.9" cy="163.2" r="2.95"/></g>
<g fill="#000"><circle cx="433.0" cy="169.2" r="3.55"/><circle cx="434.8" cy="169.2" r="3.55"/><circle cx="436.7" cy="169.2" r="3.55"/><circle cx="438.5" cy="169.2" r="3.55"/><circle cx="440.4" cy="169.2" r="3.55"/><circle cx="442.2" cy="169.2" r="3.55"/><circle cx="444.0" cy="169.2" r="3.55"/><circle cx="445.9" cy="169.2" r="3.55"/><circle cx="447.7" cy="169.2" r="3.55"/><circle cx="449.6" cy="169.2" r="3.55"/><circle cx="451.4" cy="169.2" r="3.55"/><circle cx="453.2" cy="169.2" r="3.55"/><circle cx="455.1" cy="169.2" r="3.55"/><circle cx="456.9" cy="169.2" r="3.55"/><circle cx="458.7" cy="169.2" r="3.55"/><circle cx="460.6" cy="169.2" r="3.55"/><circle cx="462.4" cy="169.2" r="3.55"/><circle cx="464.3" cy="169.2" r="3.55"/><circle cx="466.1" cy="169.2" r="3.55"/><circle cx="467.9" cy="169.2" r="3.55"/><circle cx="469.8" cy="169.2" r="3.55"/><circle cx="471.6" cy="169.2" r="3.55"/><circle cx="473.5" cy="169.2" r="3.55"/><circle cx="475.3" cy="169.2" r="3.55"/><circle cx="477.1" cy="169.2" r="3.55"/><circle cx="479.0" cy="169.2" r="3.55"/><circle cx="480.8" cy="169.2" r="3.55"/><circle cx="482.7" cy="169.2" r="3.55"/><circle cx="484.5" cy="169.2" r="3.55"/><circle cx="486.3" cy="169.2" r="3.55"/><circle cx="488.2" cy="169.2" r="3.55"/><circle cx="490.0" cy="169.2" r="3.55"/><circle cx="491.8" cy="169.2" r="3.55"/><circle cx="493.7" cy="169.2" r="3.55"/><circle cx="495.5" cy="169.2" r="3.55"/><circle cx="497.4" cy="169.2" r="3.55"/><circle cx="499.2" cy="169.2" r="3.55"/><circle cx="501.0" cy="169.2" r="3.55"/><circle cx="502.9" cy="169.2" r="3.55"/><circle cx="504.7" cy="169.2" r="3.55"/><circle cx="506.6" cy="169.2" r="3.55"/><circle cx="508.4" cy="169.2" r="3.55"/><circle cx="510.2" cy="169.2" r="3.55"/><circle cx="512.1" cy="169.2" r="3.55"/><circle cx="513.9" cy="169.2" r="3.55"/><circle cx="515.8" cy="169.2" r="3.55"/><circle cx="517.6" cy="169.2" r="3.55"/><circle cx="519.4" cy="169.2" r="3.55"/><circle cx="521.3" cy="169.2" r="3.55"/><circle cx="523.1" cy="169.2" r="3.55"/><circle cx="524.9" cy="169.2" r="3.55"/><circle cx="526.8" cy="169.2" r="3.55"/><circle cx="528.6" cy="169.2" r="3.55"/><circle cx="530.5" cy="169.2" r="3.55"/><circle cx="532.3" cy="169.2" r="3.55"/><circle cx="534.1" cy="169.2" r="3.55"/><circle cx="536.0" cy="169.2" r="3.55"/><circle cx="537.8" cy="169.2" r="3.55"/><circle cx="539.7" cy="169.2" r="3.55"/><circle cx="541.5" cy="169.2" r="3.55"/><circle cx="543.3" cy="169.2" r="3.55"/><circle cx="545.2" cy="169.2" r="3.55"/><circle cx="547.0" cy="169.2" r="3.55"/><circle cx="548.9" cy="169.2" r="3.55"/><circle cx="550.7" cy="169.2" r="3.55"/><circle cx="552.5" cy="169.2" r="3.55"/><circle cx="554.4" cy="169.2" r="3.55"/><circle cx="556.2" cy="169.2" r="3.55"/><circle cx="558.1" cy="169.2" r="3.55"/><circle cx="559.9" cy="169.1" r="3.55"/><circle cx="561.7" cy="169.1" r="3.55"/><circle cx="563.6" cy="169.0" r="3.55"/><circle cx="565.4" cy="168.9" r="3.55"/><circle cx="567.2" cy="168.8" r="3.55"/><circle cx="569.1" cy="168.8" r="3.55"/><circle cx="570.9" cy="168.7" r="3.55"/><circle cx="572.8" cy="168.6" r="3.55"/><circle cx="574.6" cy="168.4" r="3.55"/><circle cx="576.4" cy="168.3" r="3.55"/><circle cx="578.3" cy="168.2" r="3.55"/><circle cx="580.1" cy="168.0" r="3.55"/><circle cx="582.0" cy="167.7" r="3.55"/><circle cx="583.8" cy="167.2" r="3.55"/><circle cx="585.6" cy="166.4" r="3.55"/><circle cx="587.5" cy="165.6" r="3.55"/><circle cx="589.3" cy="164.7" r="3.55"/><circle cx="591.2" cy="163.7" r="3.55"/><circle cx="593.0" cy="162.7" r="3.55"/><circle cx="594.8" cy="162.2" r="3.55"/><circle cx="596.7" cy="162.1" r="3.55"/><circle cx="598.5" cy="162.1" r="3.55"/><circle cx="600.3" cy="162.1" r="3.55"/><circle cx="602.2" cy="162.1" r="3.55"/><circle cx="604.0" cy="162.1" r="3.55"/><circle cx="605.9" cy="162.1" r="3.55"/><circle cx="607.7" cy="162.1" r="3.55"/><circle cx="609.5" cy="162.1" r="3.55"/><circle cx="611.4" cy="162.1" r="3.55"/><circle cx="613.2" cy="162.1" r="3.55"/><circle cx="615.1" cy="162.1" r="3.55"/><circle cx="616.9" cy="162.1" r="3.55"/><circle cx="618.7" cy="162.1" r="3.55"/><circle cx="620.6" cy="162.1" r="3.55"/><circle cx="622.4" cy="162.1" r="3.55"/><circle cx="624.3" cy="162.1" r="3.55"/><circle cx="626.1" cy="162.1" r="3.55"/><circle cx="627.9" cy="162.1" r="3.55"/><circle cx="629.8" cy="162.1" r="3.55"/><circle cx="631.6" cy="162.1" r="3.55"/><circle cx="633.5" cy="162.1" r="3.55"/><circle cx="635.3" cy="162.1" r="3.55"/><circle cx="637.1" cy="162.1" r="3.55"/><circle cx="639.0" cy="162.1" r="3.55"/><circle cx="640.8" cy="162.1" r="3.55"/><circle cx="642.6" cy="162.1" r="3.55"/><circle cx="644.5" cy="162.1" r="3.55"/><circle cx="646.3" cy="162.1" r="3.55"/><circle cx="648.2" cy="162.1" r="3.55"/><circle cx="650.0" cy="162.1" r="3.55"/><circle cx="651.8" cy="162.1" r="3.55"/><circle cx="653.7" cy="162.1" r="3.55"/></g>
<ellipse cx="434.7" cy="169.3" rx="2.4" ry="1.7" fill="#fff"/>
<g font-size="16.5" fill="#000" stroke="#000" stroke-width="0.3">
<text x="432.8" y="318.2" text-anchor="middle">2</text>
<text x="469.6" y="318.2" text-anchor="middle">3</text>
<text x="506.4" y="318.2" text-anchor="middle">4</text>
<text x="543.1" y="318.2" text-anchor="middle">5</text>
<text x="579.9" y="318.2" text-anchor="middle">6</text>
<text x="616.7" y="318.2" text-anchor="middle">7</text>
<text x="653.5" y="318.2" text-anchor="middle">8</text>
<text x="425.3" y="168.9" text-anchor="end">0</text>
<text x="425.3" y="202.1" text-anchor="end">-2</text>
<text x="425.3" y="235.4" text-anchor="end">-4</text>
<text x="425.3" y="268.6" text-anchor="end">-6</text>
<text x="425.3" y="301.9" text-anchor="end">-8</text>
<text x="543.2" y="338" text-anchor="middle" xml:space="preserve" font-size="16.9">Temperature  [K]</text>
<text transform="translate(394.3,317.6) rotate(-90)" xml:space="preserve" letter-spacing="-0.3">Magnetization  [10<tspan font-size="11.5" dy="-8.4">-4</tspan><tspan dy="8.4"> emu]</tspan></text>
<text x="484.9" y="219.4" font-size="16.1">FC</text><text x="484.9" y="235.4" font-size="16.1">ZFC</text>
</g>
<circle cx="468.4" cy="213.6" r="4.3" fill="#000"/>
<circle cx="468.5" cy="229.7" r="3.2" fill="#fff" stroke="#000" stroke-width="2.1"/>
</svg>
</body></html>
